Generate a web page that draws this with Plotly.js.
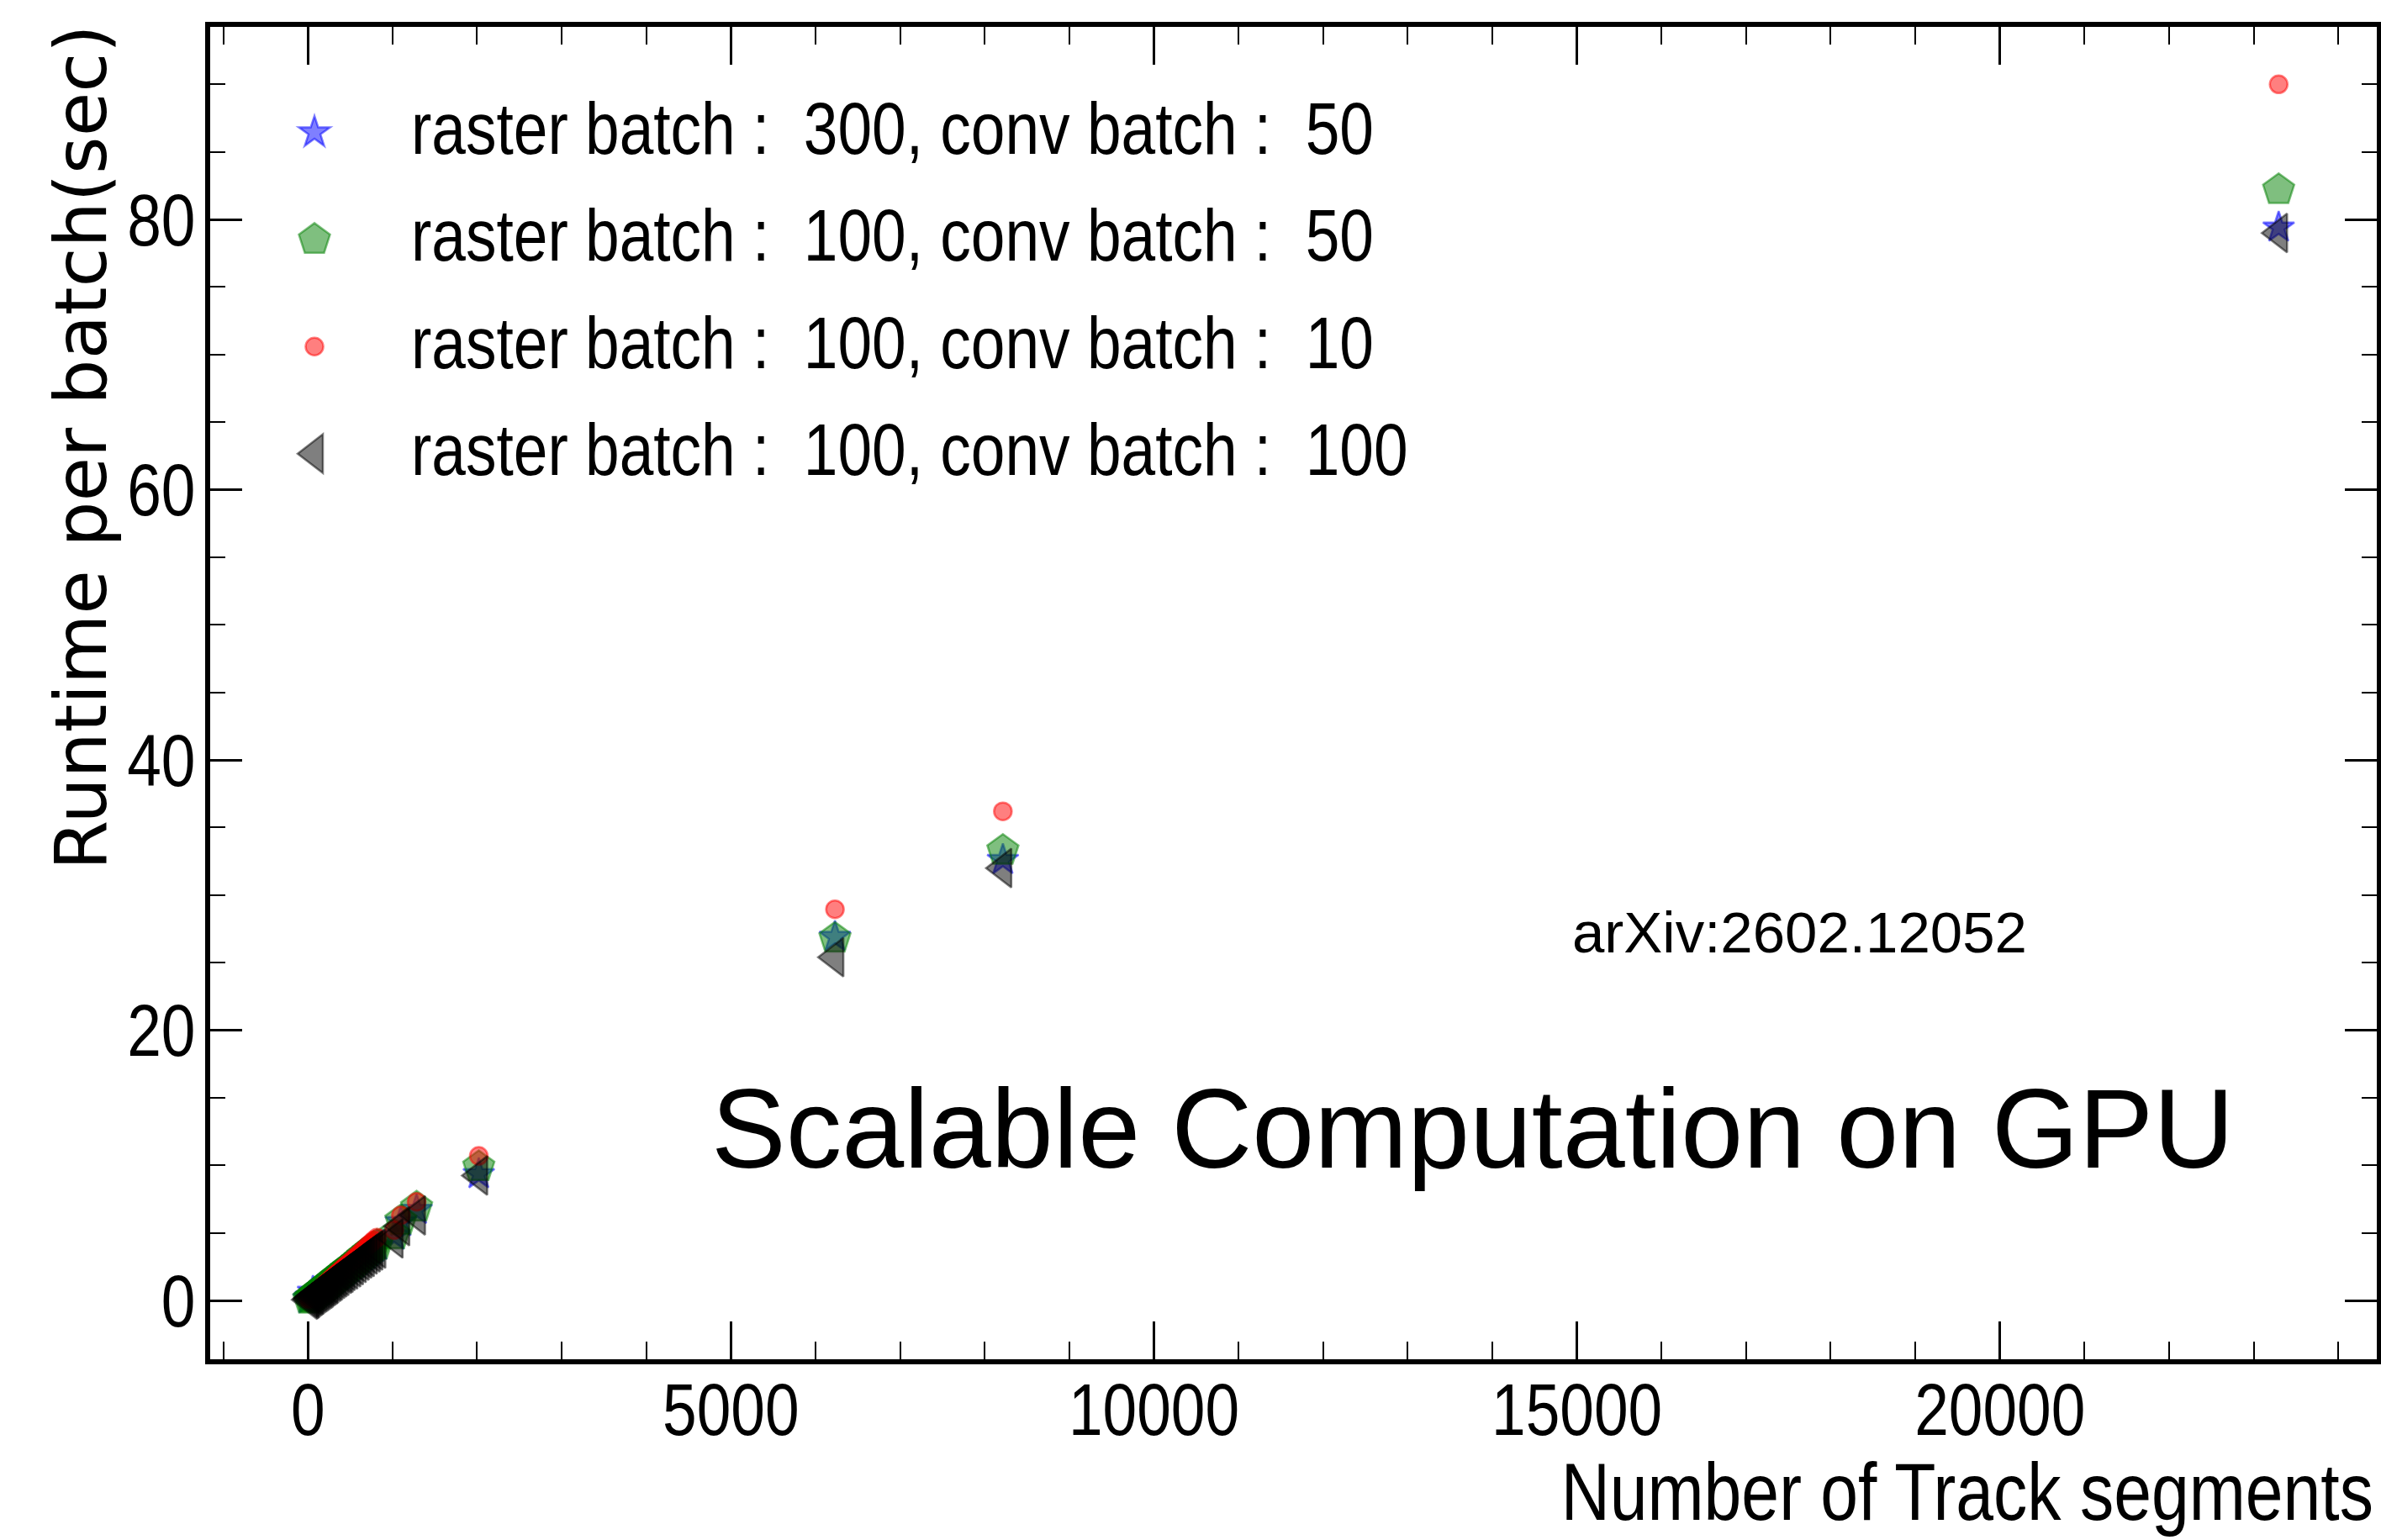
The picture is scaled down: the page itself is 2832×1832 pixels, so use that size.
<!DOCTYPE html>
<html>
<head>
<meta charset="utf-8">
<script src="https://cdn.plot.ly/plotly-3.0.1.min.js"></script>
<style>
  html, body { margin: 0; padding: 0; background: #ffffff; }
  #chart { width: 2832px; height: 1832px; }
</style>
</head>
<body>
<div id="chart"></div>
<script>
// ---- data ----
const segments = [10, 25, 40, 60, 75, 90, 110, 130, 150, 170, 190, 205, 225, 245, 260, 285, 305, 330, 355, 380,
                  410, 430, 454, 485, 520, 551, 585, 619, 650, 680, 715, 750, 780, 816, 1020, 1099, 1285, 2020,
                  6230, 8215, 23295];

const runtimeR300C50  = [0.10, 0.20, 0.30, 0.64, 0.42, 0.50, 0.60, 0.68, 0.78, 0.88, 0.96, 1.08, 1.15, 1.26, 1.32, 1.46, 1.55, 1.70, 1.80, 1.92,
                         2.08, 2.16, 2.30, 2.42, 2.58, 2.74, 2.92, 3.10, 3.26, 3.38, 3.58, 3.74, 3.90, 4.05, 4.80, 5.80, 6.70, 9.35,
                         26.9, 32.6, 79.4];
const runtimeR100C50  = [0.08, 0.14, 0.22, 0.32, 0.40, 0.48, 0.58, 0.67, 0.76, 0.87, 0.95, 1.06, 1.14, 1.24, 1.32, 1.45, 1.55, 1.69, 1.79, 1.92,
                         2.08, 2.17, 2.31, 2.44, 2.60, 2.76, 2.95, 3.13, 3.30, 3.42, 3.62, 3.78, 3.94, 4.08, 4.85, 5.90, 6.90, 9.90,
                         26.8, 33.3, 82.2];
const runtimeR100C10  = [0.10, 0.18, 0.28, 0.40, 0.48, 0.58, 0.68, 0.78, 0.88, 1.00, 1.10, 1.22, 1.30, 1.42, 1.50, 1.66, 1.76, 1.92, 2.05, 2.18,
                         2.36, 2.46, 2.62, 2.78, 2.96, 3.14, 3.34, 3.52, 3.72, 3.86, 4.10, 4.28, 4.46, 4.65, 5.20, 6.30, 7.30, 10.7,
                         28.95, 36.2, 90.0];
const runtimeR100C100 = [0.05, 0.12, 0.20, 0.30, 0.38, 0.45, 0.55, 0.63, 0.72, 0.82, 0.90, 1.00, 1.08, 1.18, 1.25, 1.38, 1.47, 1.60, 1.70, 1.82,
                         1.97, 2.05, 2.18, 2.30, 2.45, 2.60, 2.78, 2.95, 3.10, 3.22, 3.40, 3.55, 3.70, 3.84, 4.59, 5.50, 6.30, 9.25,
                         25.4, 32.0, 79.0];

const seriesNames = [
  "raster batch :\u00a0 300, conv batch :\u00a0 50",
  "raster batch :\u00a0 100, conv batch :\u00a0 50",
  "raster batch :\u00a0 100, conv batch :\u00a0 10",
  "raster batch :\u00a0 100, conv batch :\u00a0 100"
];
const xTickVals = [0, 5000, 10000, 15000, 20000];
const yTickVals = [0, 20, 40, 60, 80];
const xTitle = "Number of Track segments";
const yTitle = "Runtime per batch(sec)";
const tagText = "arXiv:2602.12052";
const headline = "Scalable Computation on GPU";

// ---- styles ----
const SANS = '"Liberation Sans", Arial, Helvetica, sans-serif';
const WIDE = '"DejaVu Sans", "Liberation Sans", sans-serif';
const SQUEEZE = 0.83;   // horizontal condensing of the Helvetica-like texts

const styles = [
  { symbol: 'star',          size: 28, color: 'rgba(0,0,255,0.5)' },
  { symbol: 'pentagon',      size: 39, color: 'rgba(0,128,0,0.5)' },
  { symbol: 'circle',        size: 21, color: 'rgba(255,0,0,0.5)' },
  { symbol: 'triangle-left', size: 40, color: 'rgba(0,0,0,0.5)' }
];
const seriesValues = [runtimeR300C50, runtimeR100C50, runtimeR100C10, runtimeR100C100];

const traces = seriesValues.map((vals, i) => ({
  type: 'scatter',
  mode: 'markers',
  name: seriesNames[i],
  legendgroup: 'g' + i,
  x: segments,
  y: vals,
  marker: {
    symbol: styles[i].symbol,
    size: styles[i].size,
    color: styles[i].color,
    line: { color: styles[i].color, width: 2.5 }
  },
  hoverinfo: 'skip'
}));

const axisCommon = {
  showline: true, linewidth: 6, linecolor: 'black', mirror: 'ticks',
  ticks: 'inside', tickcolor: 'black', tickwidth: 3,
  showgrid: false, zeroline: false,
  tickfont: { family: SANS, size: 88, color: 'black' }
};

const layout = {
  width: 2832, height: 1832,
  margin: { l: 250, r: 5, t: 32, b: 215, pad: 0 },
  paper_bgcolor: 'white', plot_bgcolor: 'white',
  showlegend: true,
  legend: {
    x: 0.0035, y: 0.961, xanchor: 'left', yanchor: 'top',
    font: { family: SANS, size: 88, color: 'black' },
    itemwidth: 220, tracegroupgap: 10,
    bgcolor: 'rgba(0,0,0,0)', borderwidth: 0
  },
  xaxis: Object.assign({}, axisCommon, {
    range: [-1155, 24455],
    tickmode: 'array', tickvals: xTickVals, ticktext: xTickVals.map(String),
    ticklen: 45, ticklabelstandoff: -22,
    minor: { dtick: 1000, tick0: 0, ticks: 'inside', ticklen: 21, tickwidth: 2, tickcolor: 'black', showgrid: false }
  }),
  yaxis: Object.assign({}, axisCommon, {
    range: [-4.35, 94.25],
    tickmode: 'array', tickvals: yTickVals, ticktext: yTickVals.map(String),
    ticklen: 38, ticklabelstandoff: -6,
    minor: { dtick: 5, tick0: 0, ticks: 'inside', ticklen: 18, tickwidth: 2, tickcolor: 'black', showgrid: false }
  }),
  annotations: [
    { text: xTitle, xref: 'paper', yref: 'paper', x: 0.999, y: -0.0995, xanchor: 'right', yanchor: 'middle',
      width: 1220, align: 'right', borderpad: 0,
      showarrow: false, font: { family: SANS, size: 97, color: 'black' } },
    { text: yTitle, xref: 'paper', yref: 'paper', x: -0.0598, y: 1.003, xanchor: 'center', yanchor: 'top',
      textangle: -90, showarrow: false, font: { family: WIDE, size: 85.5, color: 'black' } },
    { text: tagText, xref: 'paper', yref: 'paper', x: 0.628, y: 0.3205, xanchor: 'left', yanchor: 'middle',
      showarrow: false, font: { family: SANS, size: 69, color: 'black' } },
    { text: headline, xref: 'paper', yref: 'paper', x: 0.2305, y: 0.1729, xanchor: 'left', yanchor: 'middle',
      showarrow: false, font: { family: SANS, size: 133, color: 'black' } }
  ]
};

const gd = document.getElementById('chart');

function squeezeText(t) {
  if (!t || t.getAttribute('data-sq')) return;
  const w = t.getComputedTextLength();
  if (w > 0) {
    t.setAttribute('textLength', (w * SQUEEZE).toFixed(2));
    t.setAttribute('lengthAdjust', 'spacingAndGlyphs');
    t.setAttribute('data-sq', '1');
  }
}

// condense a text about its right edge with a transform
function squeezeRight(t) {
  if (!t || t.getAttribute('data-sq')) return;
  const bb = t.getBBox();
  const right = bb.x + bb.width;
  const prev = t.getAttribute('transform') || '';
  t.setAttribute('transform', (prev + ' matrix(' + SQUEEZE + ',0,0,1,' + ((1 - SQUEEZE) * right).toFixed(2) + ',0)').trim());
  t.setAttribute('data-sq', '1');
}

function finishTouches() {
  // legend symbols: same size as the plotted markers
  const plotPts = [];
  gd.querySelectorAll('.scatterlayer .trace').forEach(g => plotPts.push(g.querySelector('path.point')));
  gd.querySelectorAll('.legend .traces').forEach((lt, i) => {
    const lp = lt.querySelector('path.scatterpts');
    const pp = plotPts[i];
    if (lp && pp && !lp.getAttribute('data-fx')) {
      lp.setAttribute('d', pp.getAttribute('d'));
      lp.style.strokeWidth = '2.5px';
      lp.setAttribute('data-fx', '1');
    }
    const lt2 = lt.querySelector('text.legendtext');
    if (lt2 && !lt2.getAttribute('data-sq')) {
      const y = parseFloat(lt2.getAttribute('y') || '0');
      lt2.setAttribute('y', (y - 9).toFixed(2));
      squeezeText(lt2);
    }
  });
  gd.querySelectorAll('.xtick text, .ytick text').forEach(squeezeText);
  gd.querySelectorAll('.annotation-text').forEach(t => {
    if (t.textContent === xTitle) squeezeRight(t);
  });
}

Plotly.newPlot(gd, traces, layout, { staticPlot: true, displayModeBar: false }).then(() => {
  finishTouches();
  gd.on && gd.on('plotly_afterplot', finishTouches);
  setTimeout(finishTouches, 50);
});
</script>
</body>
</html>
